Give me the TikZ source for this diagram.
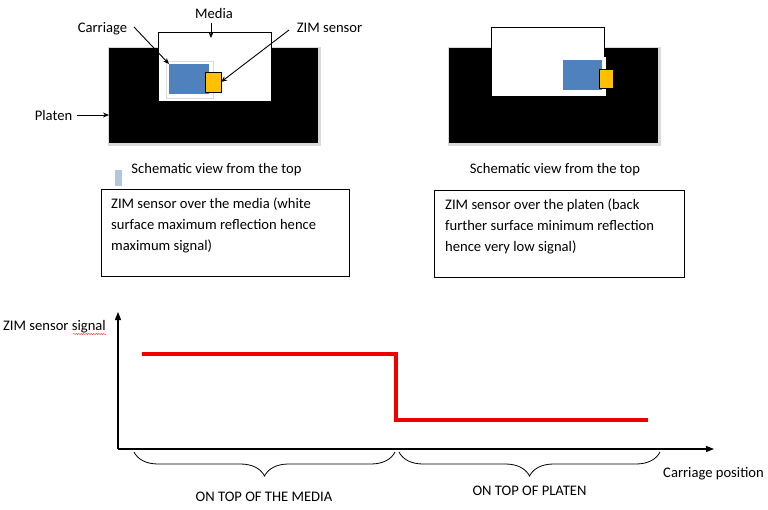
\documentclass[tikz,border=0pt]{standalone}
\usepackage{fontspec}
\setmainfont{Carlito}
\usetikzlibrary{arrows.meta,decorations.pathreplacing,decorations.pathmorphing}
\definecolor{carblue}{HTML}{4F81BD}
\definecolor{zimyel}{HTML}{FFC000}
\definecolor{sigred}{HTML}{F00000}
\definecolor{shadowgray}{HTML}{D9D9D9}
\begin{document}
\begin{tikzpicture}[x=1pt,y=-1pt,
  every node/.style={font=\fontsize{14.6}{21}\selectfont},
  blk/.style={anchor=north west,inner sep=0pt,outer sep=0pt},
  lbl/.style={anchor=base,inner sep=0pt},
  arr/.style={draw=black,line width=0.9pt,-{Stealth[length=6pt,width=5pt]}},
  axis/.style={draw=black,line width=1.1pt,-{Triangle[length=8pt,width=6pt]}},
  txtbox/.style={blk,draw=black,line width=0.9pt,fill=white},
  brc/.style={draw=black,line width=0.8pt,decorate,decoration={brace,mirror,amplitude=24pt,aspect=0.5}}]
\path[use as bounding box] (0,0) rectangle (768,509);

% ---------- left schematic ----------
\node[blk,fill=shadowgray,minimum width=213pt,minimum height=99pt] (psh1) at (108,47) {};
\node[blk,fill=black,minimum width=209pt,minimum height=95pt] (plat1) at (109,48) {};
\node[blk,fill=white,draw=black,line width=0.9pt,minimum width=113pt,minimum height=69pt] (med1) at (158,32) {};
\node[blk,fill=white,draw=shadowgray,line width=0.8pt,minimum width=47pt,minimum height=37pt] (csh1) at (166,61) {};
\node[blk,fill=carblue,minimum width=40pt,minimum height=30pt] (car1) at (169,64) {};
\node[blk,fill=zimyel,draw=black,line width=0.8pt,minimum width=16pt,minimum height=20pt] (zim1) at (205,72) {};

\node[lbl] (carlbl) at (102.5,32.5) {Carriage};
\node[lbl] (medlbl) at (214,18.5) {Media};
\node[lbl] (zimlbl) at (329.5,32.5) {ZIM sensor};
\node[lbl] (platlbl) at (53.5,120.5) {Platen};
\coordinate (cartail) at (134,27);
\coordinate (medtail) at (211,23);
\coordinate (medtip) at (211,38);
\coordinate (zimtail) at (289,30);
\coordinate (plattail) at (77,115);

\draw[arr] (cartail) -- (car1.north west);
\draw[arr] (medtail) -- (medtip);
\draw[arr] (zimtail) -- (zim1.east);
\draw[arr] (plattail) -- (plat1.west |- plattail);

\node[lbl] (cap1) at (216.5,173.7) {Schematic view from the top};
\node[blk,fill=carblue!45,minimum width=7pt,minimum height=16pt] (mark1) at (115,170) {};

% ---------- right schematic ----------
\node[blk,fill=shadowgray,minimum width=213pt,minimum height=99pt] (psh2) at (448,47) {};
\node[blk,fill=black,minimum width=209pt,minimum height=95pt] (plat2) at (449,48) {};
\node[blk,fill=white,draw=black,line width=0.9pt,minimum width=113pt,minimum height=69pt] (med2) at (491,27) {};
\node[blk,fill=white,minimum width=46pt,minimum height=39pt] (csh2) at (560,57) {};
\node[blk,fill=carblue,minimum width=39pt,minimum height=30pt] (car2) at (563,60) {};
\node[blk,fill=zimyel,draw=black,line width=0.8pt,minimum width=14pt,minimum height=19pt] (zim2) at (599,69) {};

\node[lbl] (cap2) at (555,173.7) {Schematic view from the top};

% ---------- text boxes ----------
\node[txtbox,minimum width=248pt,minimum height=87pt] (box1) at (101,189) {};
\node[anchor=north west,inner sep=0pt,align=left] (box1txt) at (111,198)
  {ZIM sensor over the media (white\\surface maximum reflection hence\\maximum signal)};
\node[txtbox,minimum width=250pt,minimum height=87pt] (box2) at (434,190) {};
\node[anchor=north west,inner sep=0pt,align=left] (box2txt) at (445,199)
  {ZIM sensor over the platen (back\\further surface minimum reflection\\hence very low signal)};

% ---------- graph ----------
\coordinate (origin) at (118,449);
\coordinate (ytop) at (118,312);
\coordinate (xend) at (714,449);
\draw[axis] (origin) -- (ytop);
\draw[axis] (origin) -- (xend);

\node[lbl] (ylbl) at (54.5,330.7) {ZIM sensor signal};
\coordinate (wavyA) at (73,334);
\coordinate (wavyB) at (106,334);
\draw[red!80,line width=0.4pt,decorate,decoration={snake,segment length=2.5pt,amplitude=0.7pt}] (wavyA) -- (wavyB);

\coordinate (s0) at (142,354);
\coordinate (s1) at (396,354);
\coordinate (s2) at (396,420);
\coordinate (s3) at (648,420);
\draw[sigred,line width=4pt,line join=miter] (s0) -- (s1) -- (s2) -- (s3);

\coordinate (b1a) at (134,452);
\coordinate (b1b) at (395,452);
\coordinate (b2a) at (399,452);
\coordinate (b2b) at (660,452);
\draw[brc] (b1a) -- (b1b);
\draw[brc] (b2a) -- (b2b);

\node[lbl] (xlbl) at (713.5,477.7) {Carriage position};
\node[lbl] (lblmedia) at (264,501.7) {ON TOP OF THE MEDIA};
\node[lbl] (lblplat) at (529.5,495.7) {ON TOP OF PLATEN};
\end{tikzpicture}
\end{document}
